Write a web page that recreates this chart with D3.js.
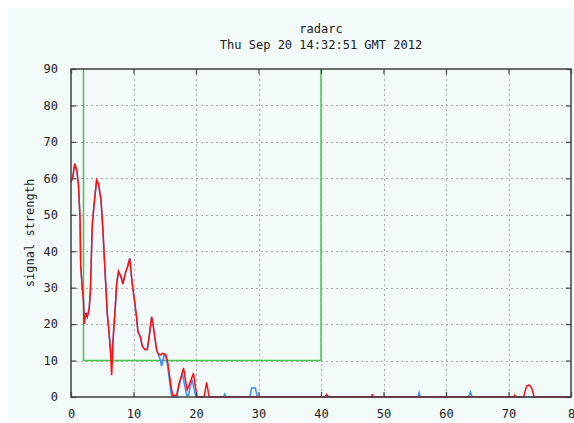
<!DOCTYPE html>
<html>
<head>
<meta charset="utf-8">
<script src="https://cdn.jsdelivr.net/npm/d3@7"></script>
<style>
  html, body { margin: 0; padding: 0; background: #ffffff; }
  svg { display: block; }
  text { font-family: "DejaVu Sans Mono", "Liberation Mono", monospace; font-size: 12px; fill: #202020; }
</style>
</head>
<body>
<svg id="chart" width="574" height="423"></svg>
<script>
// ---- data ----
const titleLines = ["radarc", "Thu Sep 20 14:32:51 GMT 2012"];
const yLabel = "signal strength";
const xTicks = [0, 10, 20, 30, 40, 50, 60, 70, 80];
const yTicks = [0, 10, 20, 30, 40, 50, 60, 70, 80, 90];
const xTickLabels = ["0", "10", "20", "30", "40", "50", "60", "70", "8"];

// green region box: [x0, x1] x [y0, y1]
const boxX = [2, 40];
const boxY = [10, 90];

// red series
const redX = [0.0, 0.3, 0.6, 0.95, 1.2, 1.45, 1.55, 1.8, 2.0, 2.1, 2.4, 2.6, 2.9, 3.1, 3.4, 3.7, 4.1, 4.4, 4.8, 5.1, 5.4, 5.8, 6.1, 6.3, 6.5, 6.8, 7.1, 7.3, 7.6, 8.0, 8.3, 8.7, 9.1, 9.4, 9.8, 10.2, 10.5, 10.7, 11.1, 11.4, 11.8, 12.2, 12.5, 12.9, 13.1, 13.4, 13.7, 13.9, 14.3, 14.7, 15.2, 15.5, 15.8, 16.1, 16.3, 16.9, 17.3, 17.7, 18.0, 18.3, 18.6, 18.8, 19.2, 19.6, 19.9, 20.2, 21.3, 21.7, 22.1, 40.6, 40.9, 41.2, 48.1, 48.2, 48.3, 70.9, 71.0, 71.2, 72.4, 72.9, 73.3, 73.7, 74.1, 80];
const redY = [59, 60.5, 64, 62, 58, 49, 36, 30, 26, 20, 23, 22, 24, 29, 47, 53, 59.5, 58.5, 54, 46, 36, 23, 17.5, 13, 6, 17.5, 25, 31, 34.5, 33, 31, 34, 36, 38, 31, 26, 21.7, 18, 16.5, 14, 13, 13, 16.5, 22, 20.3, 16.5, 13, 12, 11.5, 12, 11.5, 9.3, 5.5, 2, 0.5, 0.5, 3.8, 6, 8, 4.7, 2, 2.8, 4.7, 6.5, 2.8, 0, 0, 4, 0, 0, 0.7, 0, 0, 0.8, 0, 0, 0.5, 0, 0, 3, 3.3, 2.5, 0, 0];

// blue series
const blueX = [0.0, 0.3, 0.6, 0.95, 1.2, 1.45, 1.55, 1.8, 2.0, 2.1, 2.4, 2.6, 2.9, 3.1, 3.4, 3.7, 4.1, 4.4, 4.8, 5.1, 5.4, 5.8, 6.1, 6.3, 6.5, 6.8, 7.1, 7.3, 7.6, 8.0, 8.3, 8.7, 9.1, 9.4, 9.8, 10.2, 10.5, 10.7, 11.1, 11.4, 11.8, 12.2, 12.5, 12.9, 13.1, 13.4, 13.7, 13.9, 14.2, 14.5, 14.9, 15.2, 15.5, 15.8, 16.0, 16.2, 16.9, 17.3, 17.8, 18.1, 18.5, 18.8, 19.1, 19.4, 19.7, 20.0, 24.4, 24.6, 24.8, 28.6, 28.9, 29.5, 29.8, 55.5, 55.7, 55.9, 63.6, 63.9, 64.2, 80];
const blueY = [59, 60.5, 64, 62, 58, 49, 36, 30, 27, 22, 23, 22, 24, 29, 47, 53, 59.5, 58.5, 54, 46, 36, 23, 17.5, 13, 11, 17.5, 25, 31, 34.5, 33, 31, 34, 36, 38, 31, 26, 21.7, 18, 16.5, 14, 13, 13, 16.5, 22, 20.3, 16.5, 13, 12, 10.7, 8.5, 11.5, 11, 8, 4, 1, 0, 0, 3, 6.5, 4, 0.5, 0.5, 3, 4.7, 2, 0, 0, 0.8, 0, 0, 2.5, 2.5, 0, 0, 1.2, 0, 0, 1.4, 0, 0];

// ---- drawing ----
const svg = d3.select("#chart");
const x = d3.scaleLinear().domain([0, 80]).range([71, 571]);
const y = d3.scaleLinear().domain([0, 90]).range([397, 69]);

// background panel
svg.append("rect").attr("x", 8).attr("y", 8).attr("width", 566).attr("height", 413)
  .attr("fill", "#f3fafa");

// grid
const grid = svg.append("g").attr("stroke", "#a8a8a8").attr("stroke-width", 1)
  .attr("stroke-dasharray", "2,3").attr("shape-rendering", "crispEdges");
grid.selectAll("line.v").data(xTicks.slice(1, -1)).join("line")
  .attr("x1", d => Math.round(x(d)) + 0.5).attr("x2", d => Math.round(x(d)) + 0.5)
  .attr("y1", y(90)).attr("y2", y(0));
grid.selectAll("line.h").data(yTicks.slice(1, -1)).join("line").attr("class", "h")
  .attr("y1", d => Math.round(y(d)) + 0.5).attr("y2", d => Math.round(y(d)) + 0.5)
  .attr("x1", x(0)).attr("x2", x(80));

// green box
svg.append("path")
  .attr("d", d3.line()([[x(boxX[0]), y(boxY[1])], [x(boxX[0]), y(boxY[0])], [x(boxX[1]), y(boxY[0])], [x(boxX[1]), y(boxY[1])]]))
  .attr("fill", "none").attr("stroke", "#44c844").attr("stroke-width", 1.5);

// series lines
const line = d3.line().x(d => x(d[0])).y(d => y(d[1]));
svg.append("path").datum(blueX.map((v, i) => [v, blueY[i]]))
  .attr("d", line).attr("fill", "none").attr("stroke", "#3a8cff").attr("stroke-width", 1.5);
svg.append("path").datum(redX.map((v, i) => [v, redY[i]]))
  .attr("d", line).attr("fill", "none").attr("stroke", "#ff1010").attr("stroke-width", 1.5);

// axes with inner ticks (mirrored)
const axisColor = "#404040";
function styleAxis(g) {
  g.select(".domain").remove();
  g.selectAll(".tick line").attr("stroke", axisColor).attr("stroke-width", 1.2);
  g.selectAll(".tick text").style("font-family", "'DejaVu Sans Mono', monospace").style("font-size", "12px").attr("fill", "#202020");
}
const xAxisB = svg.append("g").attr("transform", `translate(0,${y(0)})`)
  .call(d3.axisBottom(x).tickValues(xTicks).tickSizeInner(-5).tickPadding(12).tickFormat((d, i) => xTickLabels[i]));
styleAxis(xAxisB);
const xAxisT = svg.append("g").attr("transform", `translate(0,${y(90)})`)
  .call(d3.axisTop(x).tickValues(xTicks).tickSizeInner(-5).tickFormat(""));
styleAxis(xAxisT);
const yAxisL = svg.append("g").attr("transform", `translate(${x(0)},0)`)
  .call(d3.axisLeft(y).tickValues(yTicks).tickSizeInner(-5).tickPadding(13));
styleAxis(yAxisL);
const yAxisR = svg.append("g").attr("transform", `translate(${x(80)},0)`)
  .call(d3.axisRight(y).tickValues(yTicks).tickSizeInner(-5).tickFormat(""));
styleAxis(yAxisR);

// border
svg.append("rect").attr("x", x(0)).attr("y", y(90)).attr("width", x(80) - x(0)).attr("height", y(0) - y(90))
  .attr("fill", "none").attr("stroke", axisColor).attr("stroke-width", 1.5);

// titles
svg.append("text").attr("x", 321).attr("y", 33).attr("text-anchor", "middle").text(titleLines[0]);
svg.append("text").attr("x", 321).attr("y", 49).attr("text-anchor", "middle").text(titleLines[1]);

// y label
svg.append("text").attr("transform", `translate(34,${(y(0) + y(90)) / 2}) rotate(-90)`)
  .attr("text-anchor", "middle").text(yLabel);
</script>
</body>
</html>
